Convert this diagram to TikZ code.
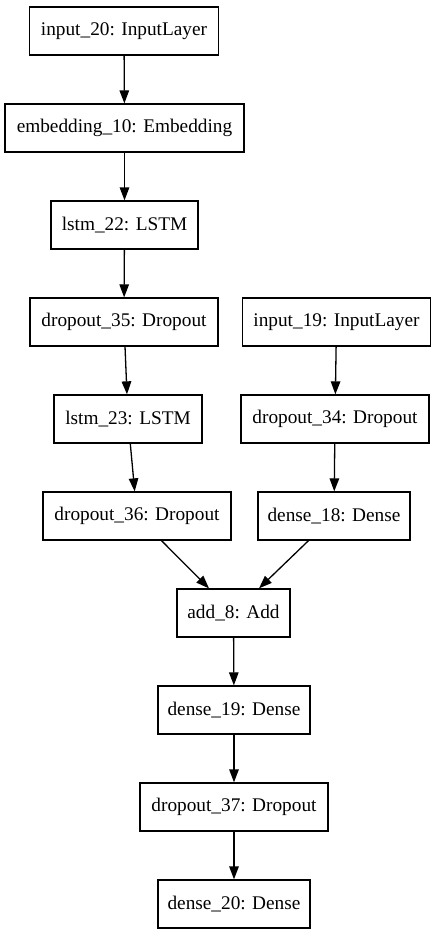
\documentclass[tikz,border=0pt]{standalone}
\usepackage{fontspec}
\setmainfont{Liberation Serif}
\usetikzlibrary{arrows.meta}

\tikzset{
  layer/.style={draw, line width=1.3pt, minimum height=48pt, inner sep=0pt,
    font=\fontsize{19.3}{22}\selectfont},
  flow/.style={line width=1.3pt, -{Triangle[length=13pt, width=9.5pt]}}
}

\begin{document}
\begin{tikzpicture}[x=1pt, y=-1pt]
  \useasboundingbox (0, 0) rectangle (435, 936);
  % left branch
  \node[layer, minimum width=189pt] (in20) at (124, 31) {input\_20: InputLayer};
  \node[layer, minimum width=239pt] (emb10) at (124.5, 128) {embedding\_10: Embedding};
  \node[layer, minimum width=147pt] (lstm22) at (124.5, 225) {lstm\_22: LSTM};
  \node[layer, minimum width=188pt] (drop35) at (124, 322) {dropout\_35: Dropout};
  \node[layer, minimum width=148pt] (lstm23) at (128, 419) {lstm\_23: LSTM};
  \node[layer, minimum width=188pt] (drop36) at (137, 516) {dropout\_36: Dropout};
  % right branch
  \node[layer, minimum width=188pt] (in19) at (336.5, 322) {input\_19: InputLayer};
  \node[layer, minimum width=188pt] (drop34) at (335, 419) {dropout\_34: Dropout};
  \node[layer, minimum width=152pt] (dense18) at (334, 516) {dense\_18: Dense};
  % merged
  \node[layer, minimum width=113pt] (add8) at (233.5, 613) {add\_8: Add};
  \node[layer, minimum width=152pt] (dense19) at (234, 710) {dense\_19: Dense};
  \node[layer, minimum width=188pt] (drop37) at (234, 807) {dropout\_37: Dropout};
  \node[layer, minimum width=152pt] (dense20) at (234, 904) {dense\_20: Dense};

  \draw[flow] (in20) -- (emb10);
  \draw[flow] (emb10) -- (lstm22);
  \draw[flow] (lstm22) -- (drop35);
  \draw[flow] (drop35) -- (lstm23);
  \draw[flow] (lstm23) -- (drop36);
  \draw[flow] (in19) -- (drop34);
  \draw[flow] (drop34) -- (dense18);
  \draw[flow] (drop36) -- (add8);
  \draw[flow] (dense18) -- (add8);
  \draw[flow] (add8) -- (dense19);
  \draw[flow] (dense19) -- (drop37);
  \draw[flow] (drop37) -- (dense20);
\end{tikzpicture}
\end{document}
